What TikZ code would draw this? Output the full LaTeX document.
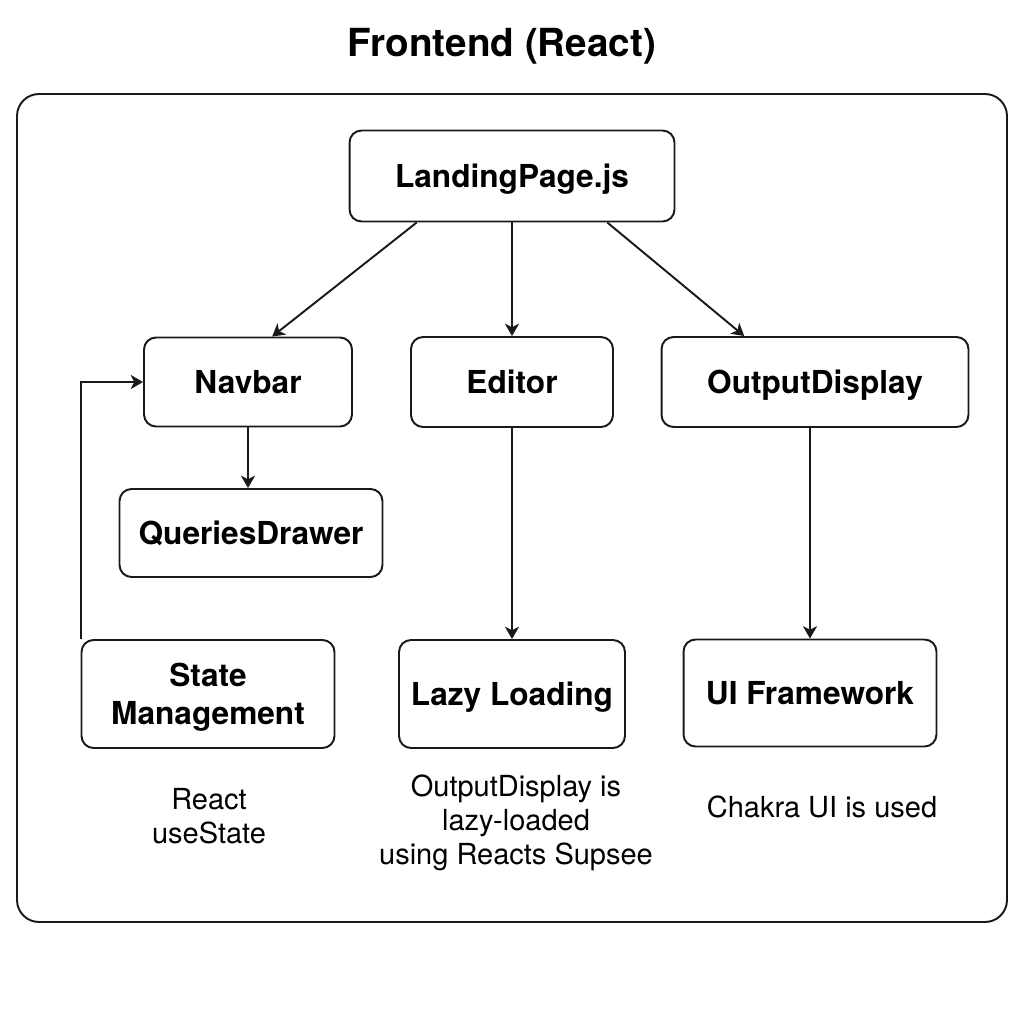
\documentclass[tikz,border=0pt]{standalone}
\usepackage{fontspec}
\setmainfont{TeX Gyre Heros}
\usetikzlibrary{arrows.meta,positioning}

\begin{document}
\begin{tikzpicture}[x=0.02cm,y=-0.02cm,
    box/.style={draw=black!90,rounded corners=0.24cm,line width=1.1pt,align=center,
      inner sep=0pt,text height=13pt,text depth=0pt,font=\bfseries\fontsize{18}{21.5}\selectfont},
    note/.style={align=center,font=\fontsize{16.5}{19.2}\selectfont},
    arr/.style={-{Stealth[length=7pt,width=8pt,inset=2pt]},line width=1.1pt,draw=black!90}]
    \useasboundingbox (0,0) rectangle (1024,1024);

    % Titel und Rahmen
    \node[font=\bfseries\fontsize{22}{26}\selectfont] (title) at (502,46) {Frontend (React)};
    \draw[draw=black!90,rounded corners=0.44cm,line width=1.1pt] (17,94) rectangle (1007,922);

    % Komponenten
    \node[box,minimum width=6.5cm,minimum height=1.82cm] (lp) at (512,176) {LandingPage.js};
    \node[box,minimum width=4.16cm,minimum height=1.78cm] (nav) at (248,382) {Navbar};
    \node[box,minimum width=4.04cm,minimum height=1.8cm] (ed) at (512,382) {Editor};
    \node[box,minimum width=6.14cm,minimum height=1.8cm] (od) at (815,382) {OutputDisplay};
    \node[box,minimum width=5.26cm,minimum height=1.76cm] (qd) at (251,533) {QueriesDrawer};
    \node[box,text height={},minimum width=5.06cm,minimum height=2.16cm] (sm) at (208,694) {State\\Management};
    \node[box,minimum width=4.52cm,minimum height=2.16cm] (lazy) at (512,694) {Lazy Loading};
    \node[box,minimum width=5.06cm,minimum height=2.14cm] (ui) at (810,693) {UI Framework};

    % Hinweise
    \node[note] (smnote) at (209,816) {React\\useState};
    \node[note] (lazynote) at (516,823) {OutputDisplay is\\lazy-loaded\\using Reacts Supsee};
    \node[note] (uinote) at (822,807) {Chakra UI is used};

    % Pfeile
    \draw[arr] (lp.206) -- (nav.62);
    \draw[arr] (lp.south) -- (ed.north);
    \draw[arr] (lp.334) -- (od.147);
    \draw[arr] (nav.south) -- (nav.south |- qd.north);
    \draw[arr] (ed.south) -- (lazy.north);
    \draw[arr] (ui.north |- od.south) -- (ui.north);
    \draw[arr] (sm.north west) |- (nav.west);
\end{tikzpicture}
\end{document}
